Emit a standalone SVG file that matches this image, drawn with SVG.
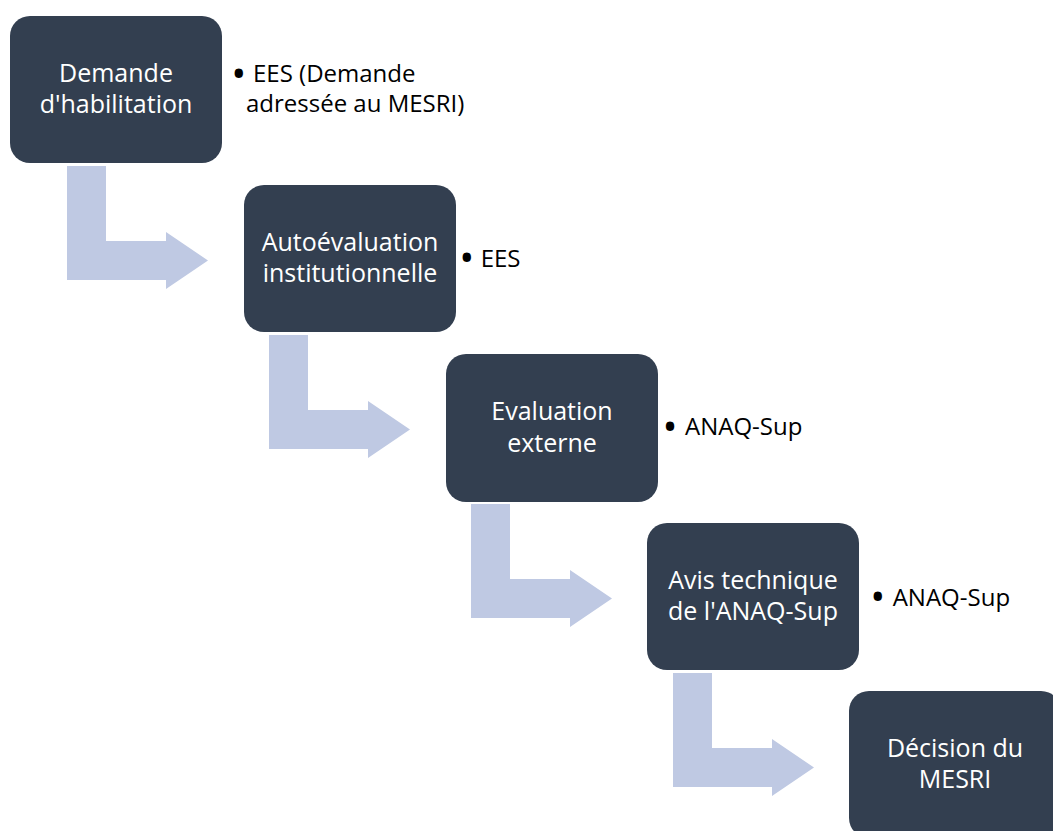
<svg xmlns="http://www.w3.org/2000/svg" width="1053" height="831" viewBox="0 0 1053 831">
  <defs>
    <style>
      .box { fill: #333F50; }
      .arrow { fill: #BFC9E3; }
      .nt { font-family: "Open Sans", "Liberation Sans", sans-serif; font-size: 25px; fill: #FFFFFF; text-anchor: middle; }
      .bt { font-family: "Open Sans", "Liberation Sans", sans-serif; font-size: 24px; fill: #000000; }
      .bl { font-size: 40px; text-anchor: middle; }
    </style>
    <polygon id="bend" points="67,166 106,166 106,241 166,241 166,232 208,260.5 166,289 166,280 67,280"/>
  </defs>
  <rect width="1053" height="831" fill="#FFFFFF"/>
  <g id="connectors">
    <use href="#bend" class="arrow"/>
    <use href="#bend" class="arrow" transform="translate(202,169)"/>
    <use href="#bend" class="arrow" transform="translate(404,338)"/>
    <use href="#bend" class="arrow" transform="translate(606,507)"/>
  </g>
  <g id="node1">
    <rect class="box" x="10" y="16" width="212" height="147" rx="20"/>
    <text class="nt"><tspan x="116" y="81.5">Demande</tspan><tspan x="116" y="113">d'habilitation</tspan></text>
    <text class="bt"><tspan class="bl" x="238.7" y="87.5">•</tspan><tspan x="253" y="82">EES (Demande</tspan><tspan x="246" y="112">adressée au MESRI)</tspan></text>
  </g>
  <g id="node2">
    <rect class="box" x="244" y="185" width="212" height="147" rx="20"/>
    <text class="nt"><tspan x="350" y="250.5">Autoévaluation</tspan><tspan x="350" y="282">institutionnelle</tspan></text>
    <text class="bt"><tspan class="bl" x="466.7" y="272.2">•</tspan><tspan x="480.7" y="266.7">EES</tspan></text>
  </g>
  <g id="node3">
    <rect class="box" x="446" y="354" width="212" height="148" rx="20"/>
    <text class="nt"><tspan x="552" y="420">Evaluation</tspan><tspan x="552" y="451.5">externe</tspan></text>
    <text class="bt"><tspan class="bl" x="670" y="440.5">•</tspan><tspan x="685" y="435">ANAQ-Sup</tspan></text>
  </g>
  <g id="node4">
    <rect class="box" x="647" y="523" width="212" height="147" rx="20"/>
    <text class="nt"><tspan x="753" y="588.5">Avis technique</tspan><tspan x="753" y="620">de l'ANAQ-Sup</tspan></text>
    <text class="bt"><tspan class="bl" x="877.7" y="611.2">•</tspan><tspan x="892.7" y="605.7">ANAQ-Sup</tspan></text>
  </g>
  <g id="node5">
    <rect class="box" x="849" y="691" width="212" height="147" rx="20"/>
    <text class="nt"><tspan x="955" y="756.5">Décision du</tspan><tspan x="955" y="788">MESRI</tspan></text>
  </g>
</svg>
